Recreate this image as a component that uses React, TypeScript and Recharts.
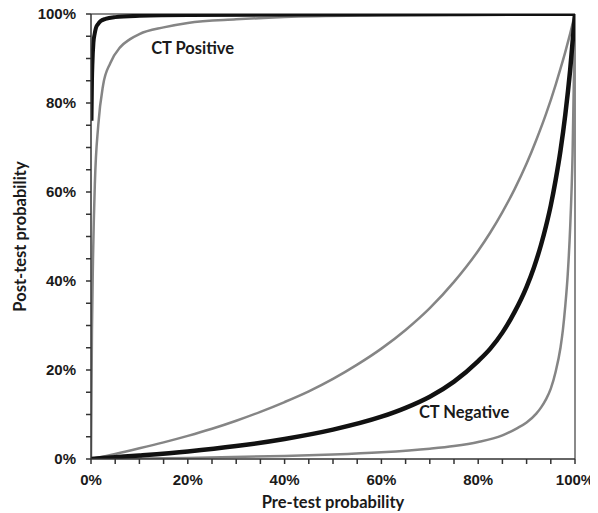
import React from 'react';
import { LineChart, Line, XAxis, YAxis, ReferenceLine, ReferenceDot } from 'recharts';

// Pre-test probability (%) -> post-test probability (%)
const posHighX = [0.1, 0.2, 0.3, 0.5, 0.75, 1, 1.5, 2, 3, 5, 10, 20, 50, 100];
const posHighY = [76, 85, 89, 93.5, 95.5, 96.8, 97.8, 98.4, 98.9, 99.3, 99.6, 99.8, 99.9, 100];

const posLowX = [0, 0.2, 0.4, 0.8, 1.5, 2.5, 4, 6, 8, 10, 15, 20, 30, 40, 60, 80, 100];
const posLowY = [0, 29, 44, 62, 75, 84, 89, 92.5, 94.3, 95.5, 97, 98, 98.8, 99.3, 99.7, 99.9, 100];

const negHighX = [0, 5, 10, 15, 20, 25, 30, 35, 40, 45, 50, 55, 60, 65, 70, 75, 80, 82.5, 85, 87.5, 90, 92, 94, 96, 97, 98, 99, 100];
const negHighY = [0, 1.14, 2.4, 3.74, 5.2, 6.8, 8.6, 10.6, 12.8, 15.2, 18, 21.2, 24.8, 29, 33.9, 39.8, 46.8, 50.9, 55.5, 60.6, 66.4, 71.7, 77.5, 84.1, 87.7, 91.5, 95.6, 100];

const negMidX = [0, 5, 10, 20, 30, 40, 50, 60, 65, 70, 75, 80, 82.5, 85, 87.5, 90, 91.5, 93, 94, 95, 96, 97, 98, 99, 100];
const negMidY = [0, 0.4, 0.8, 1.7, 2.9, 4.5, 6.6, 9.5, 11.5, 14, 17.4, 22, 24.8, 28.4, 33, 38.7, 43, 48.2, 52.3, 57, 62.7, 69.3, 77.4, 87.4, 100];

const negLowX = [0, 20, 40, 50, 60, 70, 75, 80, 85, 88, 90, 92, 93, 94, 95, 96, 97, 97.5, 98, 98.5, 99, 99.5, 100];
const negLowY = [0, 0.25, 0.67, 1, 1.5, 2.3, 2.9, 3.8, 5.3, 6.9, 8.2, 10.2, 11.6, 13.4, 15.8, 19.6, 25, 29, 34.5, 41.5, 52, 68.5, 100];

const axisTicks = [0, 5, 10, 15, 20, 25, 30, 35, 40, 45, 50, 55, 60, 65, 70, 75, 80, 85, 90, 95, 100];
const xTitle = 'Pre-test probability';
const yTitle = 'Post-test probability';
const posLabel = 'CT Positive';
const negLabel = 'CT Negative';

const toData = (xs: number[], ys: number[]) => xs.map((x, i) => ({ x, y: ys[i] }));

const fmt = (v: number) => (v % 20 === 0 ? `${v}%` : '');

const tickStyle = {
  fontFamily: 'Liberation Sans, Arial, sans-serif',
  fontSize: 15,
  fontWeight: 700,
  fill: '#1a1a1a',
};

const titleFont = 'Lato, "Open Sans", sans-serif';

export default function App() {
  return (
    <div style={{ width: 590, height: 505 }}>
      <style>{'svg.recharts-surface{overflow:visible}'}</style>
      <LineChart
        width={590}
        height={505}
        margin={{ top: 6, right: 23, left: 10, bottom: 0 }}
      >
        <XAxis
          type="number"
          dataKey="x"
          domain={[0, 100]}
          ticks={axisTicks}
          tickFormatter={fmt}
          interval={0}
          allowDataOverflow
          height={54}
          tick={tickStyle}
          tickSize={5}
          tickMargin={10}
          stroke="#333"
          strokeWidth={1.5}
          label={{
            value: xTitle,
            position: 'insideBottom',
            offset: 5,
            fontFamily: titleFont,
            fontSize: 16.5,
            fontWeight: 700,
            fill: '#1a1a1a',
          }}
        />
        <YAxis
          type="number"
          dataKey="y"
          domain={[0, 100]}
          ticks={axisTicks}
          tickFormatter={fmt}
          interval={0}
          allowDataOverflow
          width={73}
          tick={tickStyle}
          tickSize={5}
          tickMargin={10}
          stroke="#333"
          strokeWidth={1.5}
          label={{
            value: yTitle,
            angle: -90,
            position: 'insideLeft',
            offset: 2,
            style: { textAnchor: 'middle' },
            fontFamily: titleFont,
            fontSize: 16.5,
            fontWeight: 700,
            fill: '#1a1a1a',
          }}
        />
        <ReferenceLine y={100} stroke="#8a8a8a" strokeWidth={2} />
        <ReferenceLine x={100} stroke="#8a8a8a" strokeWidth={2} />

        <Line data={toData(posLowX, posLowY)} dataKey="y" type="monotone" stroke="#858585" strokeWidth={2.5} dot={false} activeDot={false} isAnimationActive={false} />
        <Line data={toData(negHighX, negHighY)} dataKey="y" type="monotone" stroke="#858585" strokeWidth={2.5} dot={false} activeDot={false} isAnimationActive={false} />
        <Line data={toData(negLowX, negLowY)} dataKey="y" type="monotone" stroke="#858585" strokeWidth={2.5} dot={false} activeDot={false} isAnimationActive={false} />
        <Line data={toData(posHighX, posHighY)} dataKey="y" type="monotone" stroke="#111" strokeWidth={4} dot={false} activeDot={false} isAnimationActive={false} />
        <Line data={toData(negMidX, negMidY)} dataKey="y" type="monotone" stroke="#111" strokeWidth={4.5} dot={false} activeDot={false} isAnimationActive={false} />

        <ReferenceDot
          x={21}
          y={92.4}
          r={1}
          fill="none"
          stroke="none"
          label={{ value: posLabel, position: 'center', fontFamily: titleFont, fontSize: 16.5, fontWeight: 700, fill: '#1a1a1a' }}
        />
        <ReferenceDot
          x={77.1}
          y={10.6}
          r={1}
          fill="none"
          stroke="none"
          label={{ value: negLabel, position: 'center', fontFamily: titleFont, fontSize: 16.5, fontWeight: 700, fill: '#1a1a1a' }}
        />
      </LineChart>
    </div>
  );
}
